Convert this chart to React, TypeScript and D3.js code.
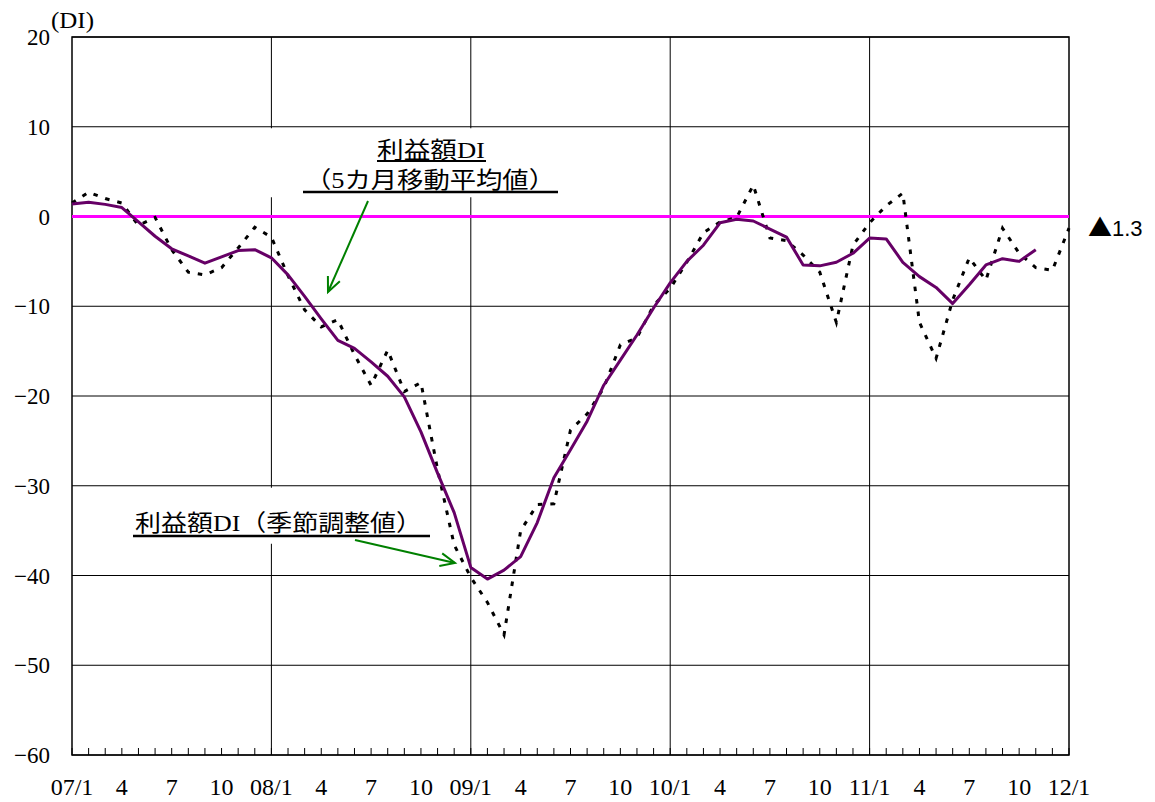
import React from "react";
import * as d3 from "d3";

// Seasonally adjusted DI (monthly, 07/1 .. 12/1)
const adjusted: number[] = [
  1.5, 2.7, 2.0, 1.5, -1.0, -0.1, -3.7, -6.2, -6.5, -5.7, -3.5, -1.2,
  -2.3, -6.6, -10.4, -12.3, -11.5, -15.4, -18.8, -14.9, -19.5, -18.5, -28.2, -36.6,
  -40.2, -43.0, -46.6, -35.0, -32.1, -32.0, -23.8, -22.0, -19.1, -14.3, -13.5, -9.9,
  -8.0, -5.1, -1.8, -0.6, -0.1, 3.5, -2.4, -2.7, -4.3, -6.2, -11.8, -3.2,
  -0.7, 1.2, 2.6, -11.8, -15.8, -9.3, -4.6, -7.1, -1.3, -4.1, -5.7, -6.0,
  -1.3,
];

// 5-month moving average (07/1 .. 11/11)
const movingAvg: number[] = [
  1.4, 1.6, 1.35, 1.0, -0.6, -2.2, -3.6, -4.4, -5.2, -4.5, -3.8, -3.7,
  -4.6, -6.5, -8.9, -11.4, -13.8, -14.7, -16.2, -17.8, -20.1, -24.0, -28.6, -33.0,
  -39.1, -40.4, -39.4, -37.9, -34.1, -29.1, -26.0, -22.8, -18.8, -16.0, -13.2, -10.2,
  -7.4, -5.0, -3.2, -0.7, -0.3, -0.5, -1.4, -2.3, -5.4, -5.5, -5.1, -4.1,
  -2.4, -2.5, -5.1, -6.7, -7.9, -9.7, -7.6, -5.4, -4.7, -5.0, -3.7,
];

const xTickLabels: string[] = [
  "07/1", "4", "7", "10", "08/1", "4", "7", "10", "09/1", "4", "7", "10",
  "10/1", "4", "7", "10", "11/1", "4", "7", "10", "12/1",
];
const yTicks: number[] = [20, 10, 0, -10, -20, -30, -40, -50, -60];
const yearStarts: number[] = [12, 24, 36, 48];
const latestMark = "▲";
const latestValue = "1.3";

const SERIF = "Liberation Serif, DejaVu Serif, Noto Sans CJK JP, serif";
const SANS = "Liberation Sans, DejaVu Sans, sans-serif";

function arrowHead(x1: number, y1: number, x2: number, y2: number, len = 16, ang = 0.42) {
  const a = Math.atan2(y2 - y1, x2 - x1);
  const p1 = [x2 - len * Math.cos(a - ang), y2 - len * Math.sin(a - ang)];
  const p2 = [x2 - len * Math.cos(a + ang), y2 - len * Math.sin(a + ang)];
  return `M${p1[0]},${p1[1]} L${x2},${y2} L${p2[0]},${p2[1]}`;
}

export default function App() {
  const W = 1155, H = 802;
  const L = 72, R = 1069, T = 37, B = 755;
  const x = d3.scaleLinear().domain([0, 60]).range([L, R]);
  const y = d3.scaleLinear().domain([-60, 20]).range([B, T]);

  const line = d3.line<number>().x((_, i) => x(i)).y((d) => y(d));

  const minorTicks = d3.range(0, 61);

  const fmt = (v: number) => (v < 0 ? "−" + Math.abs(v) : String(v));

  return (
    <svg width={W} height={H} style={{ position: "absolute", left: 0, top: 0, background: "#fff" }}>
      <rect x={0} y={0} width={W} height={H} fill="#fff" />
      {/* horizontal grid */}
      {yTicks.map((t) => (
        <line key={"h" + t} x1={L} x2={R} y1={y(t)} y2={y(t)} stroke="#000" strokeWidth={1} />
      ))}
      {/* vertical year lines */}
      {yearStarts.map((m) => (
        <line key={"v" + m} x1={x(m)} x2={x(m)} y1={T} y2={B} stroke="#000" strokeWidth={1} />
      ))}
      {/* minor ticks */}
      {minorTicks.map((m) => (
        <line key={"t" + m} x1={x(m)} x2={x(m)} y1={B} y2={B - 7} stroke="#000" strokeWidth={1} />
      ))}
      {/* white boxes behind annotations */}
      <rect x={245} y={y(10) + 1.5} width={330} height={69} fill="#fff" />
      <rect x={125} y={y(-30) + 2} width={312} height={56} fill="#fff" />
      {/* plot border */}
      <rect x={L} y={T} width={R - L} height={B - T} fill="none" stroke="#000" strokeWidth={1.5} />

      {/* zero line */}
      <line x1={L} x2={R} y1={y(0)} y2={y(0)} stroke="#FF00FF" strokeWidth={3} />

      {/* series */}
      <path d={line(adjusted) || ""} fill="none" stroke="#000" strokeWidth={3} strokeDasharray="4.5,8" />
      <path d={line(movingAvg) || ""} fill="none" stroke="#660066" strokeWidth={3} strokeLinejoin="round" />

      {/* y labels */}
      {yTicks.map((t) => (
        <text key={"yl" + t} x={50} y={y(t)} dy="0.35em" textAnchor="end" fontFamily={SERIF} fontSize={23} fill="#000">
          {fmt(t)}
        </text>
      ))}
      <text x={51} y={28} fontFamily={SERIF} fontSize={23} fill="#000" textLength={43} lengthAdjust="spacingAndGlyphs">(DI)</text>

      {/* x labels */}
      {xTickLabels.map((lab, i) => (
        <text key={"xl" + i} x={x(i * 3)} y={795} textAnchor="middle" fontFamily={SERIF} fontSize={24} fill="#000">
          {lab}
        </text>
      ))}

      {/* latest value */}
      <text x={1088} y={236} fill="#000">
        <tspan fontFamily="Noto Sans CJK JP" fontSize={24}>{latestMark}</tspan>
        <tspan fontFamily={SANS} fontSize={22}>{latestValue}</tspan>
      </text>

      {/* annotation: moving average */}
      <text x={377} y={158} fontFamily={SERIF} fontSize={23} fill="#000" textLength={108} lengthAdjust="spacingAndGlyphs">利益額DI</text>
      <line x1={377} x2={486} y1={161} y2={161} stroke="#000" strokeWidth={2} />
      <text x={305} y={188} fontFamily={SERIF} fontSize={23} fill="#000" textLength={250} lengthAdjust="spacingAndGlyphs">（5カ月移動平均値）</text>
      <line x1={303} x2={558} y1={192} y2={192} stroke="#000" strokeWidth={2.5} />
      <line x1={368} y1={201} x2={328} y2={292} stroke="#008000" strokeWidth={2} />
      <path d={arrowHead(368, 201, 328, 292)} fill="none" stroke="#008000" strokeWidth={2} />

      {/* annotation: seasonally adjusted */}
      <text x={135} y={531} fontFamily={SERIF} fontSize={23} fill="#000" textLength={287} lengthAdjust="spacingAndGlyphs">利益額DI（季節調整値）</text>
      <line x1={133} x2={430} y1={536} y2={536} stroke="#000" strokeWidth={2.5} />
      <line x1={355} y1={540} x2={455} y2={563} stroke="#008000" strokeWidth={2} />
      <path d={arrowHead(355, 540, 455, 563)} fill="none" stroke="#008000" strokeWidth={2} />
    </svg>
  );
}
